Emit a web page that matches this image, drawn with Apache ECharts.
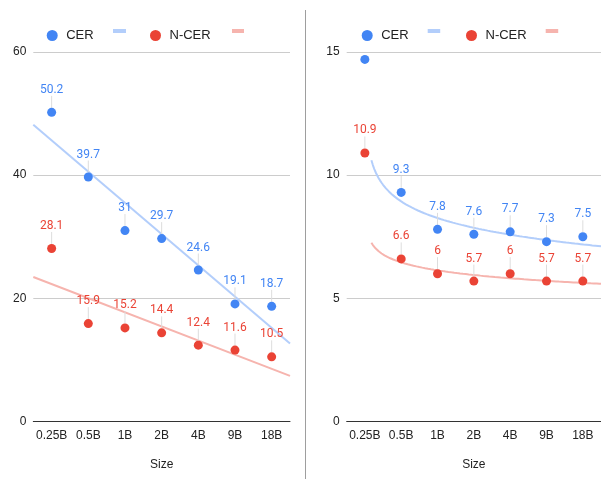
<!DOCTYPE html>
<html>
<head>
<meta charset="utf-8">
<script src="https://cdn.jsdelivr.net/npm/echarts@6/dist/echarts.min.js"></script>
<style>html,body{margin:0;padding:0;background:#fff}#c{width:601px;height:479px}</style>
</head>
<body>
<div id="c"></div>
<script>
const categories = ['0.25B', '0.5B', '1B', '2B', '4B', '9B', '18B'];
const cerLeft = [50.2, 39.7, 31, 29.7, 24.6, 19.1, 18.7];
const ncerLeft = [28.1, 15.9, 15.2, 14.4, 12.4, 11.6, 10.5];
const cerRight = [14.7, 9.3, 7.8, 7.6, 7.7, 7.3, 7.5];
const ncerRight = [10.9, 6.6, 6, 5.7, 6, 5.7, 5.7];
const yTicksLeft = [0, 20, 40, 60];
const yTicksRight = [0, 5, 10, 15];
const xName = 'Size';

const BLUE = '#4285f4', RED = '#ea4335';
const BLUE_T = '#b3cefb', RED_T = '#f6b4ae';
const FONT = 'Roboto, Arial, sans-serif';
const AFONT = '"Liberation Sans", Arial, sans-serif';

// least-squares linear trend (x = category index)
function linFit(ys) {
  const n = ys.length;
  const xs = ys.map((_, i) => i);
  const mx = xs.reduce((a, b) => a + b, 0) / n;
  const my = ys.reduce((a, b) => a + b, 0) / n;
  let sxy = 0, sxx = 0;
  xs.forEach((x, i) => { sxy += (x - mx) * (ys[i] - my); sxx += (x - mx) * (x - mx); });
  const a = sxy / sxx, b = my - a * mx;
  return x => a * x + b;
}
// least-squares logarithmic trend y = a ln(x) + b (x = category index, x<=0 dropped)
function logFit(ys) {
  const pts = ys.map((y, i) => [i, y]).filter(p => p[0] > 0);
  const n = pts.length;
  const lx = pts.map(p => Math.log(p[0]));
  const mx = lx.reduce((a, b) => a + b, 0) / n;
  const my = pts.reduce((a, p) => a + p[1], 0) / n;
  let sxy = 0, sxx = 0;
  pts.forEach((p, i) => { sxy += (lx[i] - mx) * (p[1] - my); sxx += (lx[i] - mx) * (lx[i] - mx); });
  const a = sxy / sxx, b = my - a * mx;
  return x => a * Math.log(x) + b;
}
function sampleLine(f) { return [[-0.5, f(-0.5)], [6.5, f(6.5)]]; }
function sampleCurve(f) {
  const out = [];
  for (let x = 0.18; x <= 6.5001; x += 0.04) out.push([x, f(x)]);
  return out;
}

function scatter(name, data, color, xi, yi, hideFirst) {
  return {
    name, type: 'scatter', xAxisIndex: xi, yAxisIndex: yi,
    data: data.map((v, i) => (hideFirst && i === 0) ? { value: v, label: { show: false }, labelLine: { show: false } } : v),
    symbolSize: 9, itemStyle: { color, opacity: 1 },
    label: { show: true, position: 'top', distance: 0, color, fontSize: 12, fontFamily: FONT },
    labelLayout: { dy: -12 },
    labelLine: { show: true, lineStyle: { color: '#dddddd', width: 1 } },
    z: 3
  };
}
function trend(name, data, color, xi, yi) {
  return {
    name, type: 'line', xAxisIndex: xi, yAxisIndex: yi, data,
    showSymbol: false, symbol: 'none', smooth: false,
    lineStyle: { color, width: 2 }, itemStyle: { color },
    silent: true, z: 2
  };
}
function legend(name, left, icon, color, w, h, showText) {
  return {
    data: [{ name, icon, itemStyle: { color, opacity: 1 } }],
    left, top: 24, itemWidth: w, itemHeight: h, itemGap: 0,
    formatter: showText ? (n => n.trim()) : () => '',
    textStyle: { color: '#222', fontSize: 13, fontFamily: AFONT, padding: [0, 0, 0, 0] },
    selectedMode: false
  };
}

const lFitC = linFit(cerLeft), lFitN = linFit(ncerLeft);
const rFitC = logFit(cerRight), rFitN = logFit(ncerRight);

const catAxis = (gi) => ({
  type: 'category', gridIndex: gi, data: categories, boundaryGap: true,
  axisLine: { show: true, lineStyle: { color: '#333', width: 1 } },
  axisTick: { show: false },
  axisLabel: { color: '#222', fontSize: 12, fontFamily: AFONT, margin: 8, interval: 0 },
  name: xName, nameLocation: 'middle', nameGap: 37,
  nameTextStyle: { color: '#222', fontSize: 12, fontFamily: AFONT }
});
const valXAxis = (gi) => ({ type: 'value', gridIndex: gi, min: -0.5, max: 6.5, show: false });
const yAxis = (gi, ticks) => ({
  type: 'value', gridIndex: gi, min: ticks[0], max: ticks[ticks.length - 1],
  interval: ticks[1] - ticks[0],
  axisLine: { show: false }, axisTick: { show: false },
  axisLabel: { color: '#222', fontSize: 12, fontFamily: AFONT, margin: 7 },
  splitLine: { lineStyle: { color: '#cccccc', width: 1 } }
});

const option = {
  animation: false,
  backgroundColor: '#ffffff',
  textStyle: { fontFamily: AFONT },
  grid: [
    { left: 33.3, right: 311, top: 52, bottom: 57.5 },
    { left: 346.7, right: -2.3, top: 52, bottom: 57.5 }
  ],
  xAxis: [catAxis(0), catAxis(1), valXAxis(0), valXAxis(1)],
  yAxis: [yAxis(0, yTicksLeft), yAxis(1, yTicksRight)],
  legend: [
    legend('CER', 41.7, 'circle', BLUE, 18, 11, true),
    legend('CER trend', 108, 'rect', BLUE_T, 13, 4, false),
    legend('N-CER', 145, 'circle', RED, 18, 11, true),
    legend('N-CER trend', 227, 'rect', RED_T, 12, 4, false),
    legend('CER ', 356.7, 'circle', BLUE, 18, 11, true),
    legend('CER trend ', 422.7, 'rect', BLUE_T, 12.5, 4, false),
    legend('N-CER ', 461, 'circle', RED, 18, 11, true),
    legend('N-CER trend ', 540.7, 'rect', RED_T, 12.5, 4, false)
  ],
  graphic: [{
    type: 'line', shape: { x1: 305.5, y1: 10, x2: 305.5, y2: 479 },
    style: { stroke: '#9e9e9e', lineWidth: 1 }, silent: true
  }],
  series: [
    trend('CER trend', sampleLine(lFitC), BLUE_T, 2, 0),
    trend('N-CER trend', sampleLine(lFitN), RED_T, 2, 0),
    scatter('CER', cerLeft, BLUE, 0, 0, false),
    scatter('N-CER', ncerLeft, RED, 0, 0, false),
    trend('CER trend ', sampleCurve(rFitC), BLUE_T, 3, 1),
    trend('N-CER trend ', sampleCurve(rFitN), RED_T, 3, 1),
    scatter('CER ', cerRight, BLUE, 1, 1, true),
    scatter('N-CER ', ncerRight, RED, 1, 1, false)
  ]
};
const chart = echarts.init(document.getElementById('c'), null, { renderer: 'canvas' });
chart.setOption(option);
</script>
</body>
</html>
